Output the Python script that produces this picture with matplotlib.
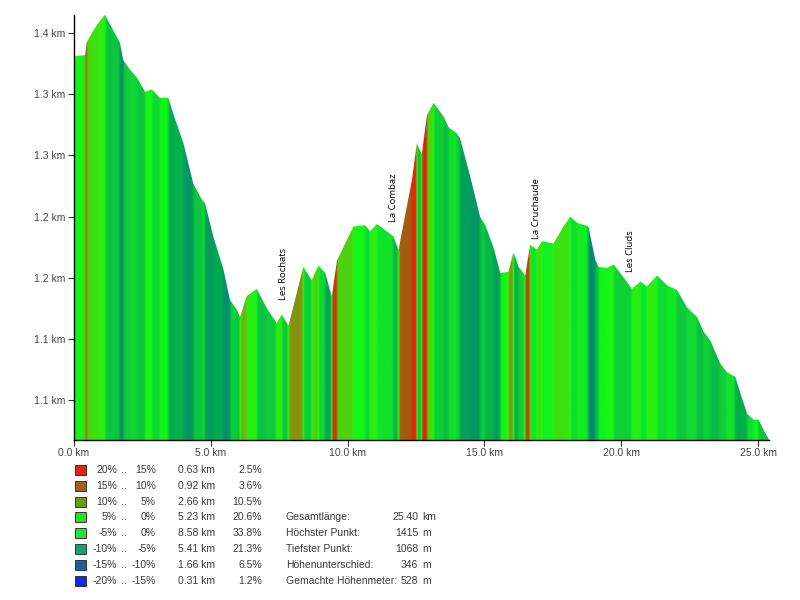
import numpy as np
import matplotlib
matplotlib.use("Agg")
import matplotlib.pyplot as plt
from matplotlib.colors import LinearSegmentedColormap
from matplotlib.patches import Rectangle

# ---------------- data ----------------
dist_km = [0.00, 0.04, 0.40, 0.46, 0.65, 0.88, 1.13, 1.44, 1.68, 1.80, 2.05, 2.29, 2.60, 2.84,
           3.14, 3.45, 3.63, 4.00, 4.36, 4.67, 4.79, 5.09, 5.46, 5.70, 5.95, 6.07, 6.31, 6.68,
           7.05, 7.41, 7.59, 7.84, 8.38, 8.69, 8.93, 9.18, 9.42, 9.61, 10.21, 10.64, 10.82,
           11.07, 11.67, 11.86, 12.35, 12.53, 12.71, 12.90, 13.14, 13.50, 13.69, 13.99, 14.11,
           14.48, 14.84, 15.03, 15.33, 15.58, 15.88, 16.06, 16.25, 16.49, 16.67, 16.92, 17.10,
           17.52, 17.89, 18.14, 18.38, 18.80, 19.05, 19.17, 19.48, 19.72, 20.03, 20.39, 20.70,
           20.94, 21.31, 21.67, 22.04, 22.40, 22.77, 23.01, 23.25, 23.62, 23.86, 24.17, 24.35,
           24.60, 24.84, 25.02, 25.27, 25.40]
elev_m = [1380, 1381, 1382, 1392, 1400, 1408, 1415, 1402, 1392, 1378, 1370, 1364, 1352, 1354,
          1347, 1347, 1334, 1310, 1277, 1264, 1261, 1234, 1207, 1182, 1174, 1168, 1185, 1191,
          1175, 1163, 1170, 1161, 1209, 1198, 1210, 1204, 1185, 1214, 1242, 1243, 1238,
          1244, 1234, 1223, 1280, 1310, 1301, 1333, 1343, 1332, 1323, 1318, 1314,
          1283, 1250, 1243, 1225, 1204, 1205, 1221, 1209, 1202, 1227, 1223, 1230,
          1228, 1242, 1250, 1245, 1242, 1215, 1209, 1208, 1211, 1202, 1191, 1197,
          1193, 1202, 1194, 1190, 1176, 1168, 1156, 1149, 1130, 1123, 1119, 1106,
          1089, 1084, 1084, 1073, 1068]

place_names = ["Les Rochats", "La Combaz", "La Cruchaude", "Les Cluds"]
place_km = [7.64, 11.66, 16.89, 20.33]
place_label_m = [1182, 1246, 1232, 1205]

ytick_vals = [1100, 1150, 1200, 1250, 1300, 1350, 1400]
ytick_labels = ["1.1 km", "1.1 km", "1.2 km", "1.2 km", "1.3 km", "1.3 km", "1.4 km"]
xtick_vals = [0, 5, 10, 15, 20, 25]
xtick_labels = ["0.0 km", "5.0 km", "10.0 km", "15.0 km", "20.0 km", "25.0 km"]

class_hi = ["20%", "15%", "10%", "5%", "-5%", "-10%", "-15%", "-20%"]
class_lo = ["15%", "10%", "5%", "0%", "0%", "-5%", "-10%", "-15%"]
class_len = ["0.63 km", "0.92 km", "2.66 km", "5.23 km", "8.58 km", "5.41 km", "1.66 km", "0.31 km"]
class_pct = ["2.5%", "3.6%", "10.5%", "20.6%", "33.8%", "21.3%", "6.5%", "1.2%"]
class_colors = ["#e02412", "#a2611a", "#6a9c1a", "#22e21e", "#22e23c", "#17a068", "#1762a0", "#1628e2"]

stat_labels = ["Gesamtlänge:", "Höchster Punkt:", "Tiefster Punkt:", "Höhenunterschied:", "Gemachte Höhenmeter:"]
stat_values = ["25.40", "1415", "1068", "346", "528"]
stat_units = ["km", "m", "m", "m", "m"]

# ---------------- figure ----------------
W, H = 800, 600
fig = plt.figure(figsize=(8, 6), dpi=100)
fig.patch.set_facecolor("white")
y_lo, y_hi = 1067.5, 1415.0
ax = fig.add_axes([74 / W, 1 - 440 / H, (769 - 74) / W, (440 - 14.7) / H])
ax.set_xlim(0, 25.4)
ax.set_ylim(y_lo, y_hi)

d = np.array(dist_km)
e = np.array(elev_m)
xs = np.linspace(0, 25.4, 2200)
ys = np.interp(xs, d, e)
h = 0.06
grade = (np.interp(xs + h, d, e) - np.interp(xs - h, d, e)) / (2 * h * 1000) * 100

anchors = [(-17.5, "#1a2ae0"), (-12.5, "#0e7a8c"), (-7.5, "#00a850"), (-3.0, "#10d038"),
           (0.0, "#10f818"), (2.5, "#30ee10"), (7.5, "#72b010"), (12.5, "#b04e10"), (17.5, "#f81808")]
vmin, vmax = -17.5, 17.5
cmap = LinearSegmentedColormap.from_list(
    "grade", [((v - vmin) / (vmax - vmin), c) for v, c in anchors])

poly = ax.fill_between(xs, y_lo, ys, color="none", lw=0)
img = ax.imshow(grade[np.newaxis, :], extent=[0, 25.4, y_lo, y_hi], aspect="auto",
                cmap=cmap, vmin=vmin, vmax=vmax, interpolation="bilinear", origin="lower")
path = poly.get_paths()[0]
img.set_clip_path(path, transform=ax.transData)

for name, xk, ym in zip(place_names, place_km, place_label_m):
    ax.text(xk, ym, name, rotation=90, ha="center", va="bottom", fontsize=6.8,
            family="Open Sans", color="black")

for s in ["top", "right"]:
    ax.spines[s].set_visible(False)
ax.spines["left"].set_color("black")
ax.spines["bottom"].set_color("black")
ax.spines["left"].set_linewidth(1.0)
ax.spines["bottom"].set_linewidth(1.0)
ax.set_yticks(ytick_vals)
ax.set_yticklabels(ytick_labels)
ax.set_xticks(xtick_vals)
ax.set_xticklabels(xtick_labels)
ax.tick_params(axis="both", length=4, width=0.8, color="#333333", labelsize=7.5,
               labelcolor="#444444", pad=2)
for lbl in ax.get_xticklabels() + ax.get_yticklabels():
    lbl.set_family("Liberation Sans")

# ---------------- legend / stats ----------------
def fy(py):
    return 1 - py / H

def fx(px):
    return px / W

txt_kw = dict(fontsize=7.5, family="Liberation Sans", color="#3a3a3a", va="center")
row_y = [470 + 15.8 * i for i in range(8)]
for i in range(8):
    py = row_y[i]
    fig.patches.append(Rectangle((fx(75), fy(py + 5)), 11 / W, 10 / H, transform=fig.transFigure,
                                 facecolor=class_colors[i], edgecolor="#222222", lw=0.6))
    fig.text(fx(117), fy(py), class_hi[i], ha="right", **txt_kw)
    fig.text(fx(121), fy(py), "..", ha="left", **txt_kw)
    fig.text(fx(156), fy(py), class_lo[i], ha="right", **txt_kw)
    fig.text(fx(178), fy(py), class_len[i], ha="left", **txt_kw)
    fig.text(fx(262), fy(py), class_pct[i], ha="right", **txt_kw)

for j in range(5):
    py = row_y[3 + j]
    fig.text(fx(286), fy(py), stat_labels[j], ha="left", **txt_kw)
    fig.text(fx(418), fy(py), stat_values[j], ha="right", **txt_kw)
    fig.text(fx(422), fy(py), stat_units[j], ha="left", **txt_kw)

fig.savefig("out.png", dpi=100, facecolor="white")
